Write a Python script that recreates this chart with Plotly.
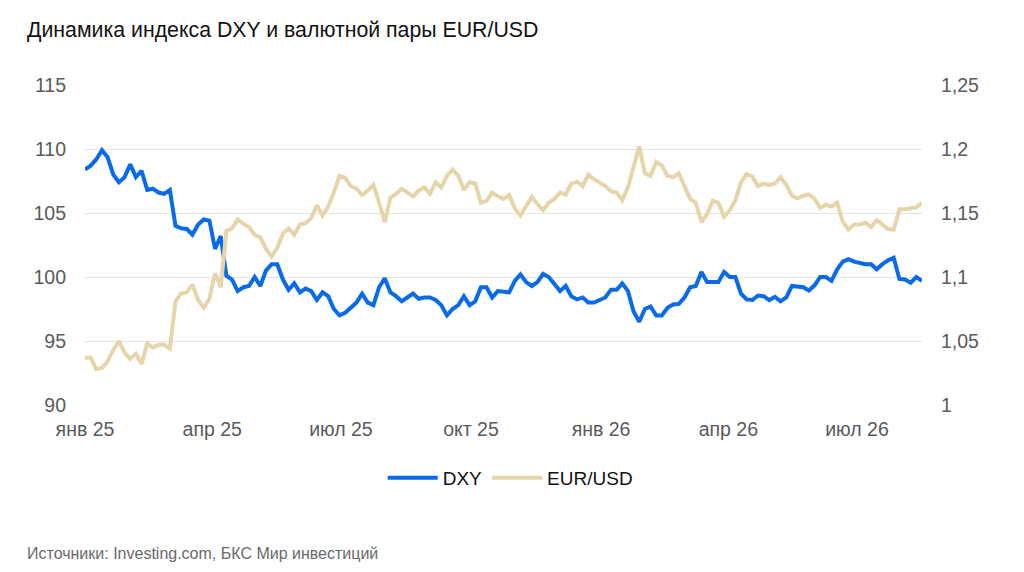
import pandas as pd
import plotly.graph_objects as go

# sampling dates (every 4 days from 1 Jan 2025)
dates = pd.date_range("2025-01-01", periods=149, freq="4D")

dxy = [
    108.4, 108.7, 109.2, 109.9, 109.35, 108.0, 107.4, 107.8, 108.8, 107.8,
    108.3, 106.8, 106.9, 106.6, 106.5, 106.8, 104.0, 103.8, 103.75, 103.3,
    104.1, 104.5, 104.4, 102.2, 103.2, 100.1, 99.8, 98.9, 99.2, 99.3,
    100.0, 99.3, 100.5, 101.0, 101.0, 99.8, 99.0, 99.5, 98.8, 99.1,
    98.9, 98.2, 98.8, 98.5, 97.5, 97.0, 97.2, 97.6, 98.0, 98.7,
    98.0, 97.8, 99.2, 99.9, 98.8, 98.5, 98.1, 98.4, 98.7, 98.3,
    98.4, 98.4, 98.2, 97.8, 97.0, 97.5, 97.8, 98.5, 97.8, 98.1,
    99.2, 99.2, 98.4, 98.9, 98.85, 98.8, 99.7, 100.2, 99.6, 99.3,
    99.6, 100.25, 100.0, 99.5, 98.9, 99.3, 98.5, 98.25, 98.4, 98.0,
    98.0, 98.2, 98.4, 99.0, 99.0, 99.5, 98.9, 97.3, 96.5, 97.5,
    97.7, 97.0, 97.0, 97.6, 97.85, 97.9, 98.4, 99.2, 99.3, 100.4,
    99.6, 99.6, 99.6, 100.4, 100.0, 100.0, 98.7, 98.25, 98.2, 98.55,
    98.5, 98.2, 98.45, 98.1, 98.4, 99.3, 99.25, 99.2, 98.95, 99.35,
    100.0, 100.0, 99.7, 100.6, 101.2, 101.4, 101.2, 101.1, 101.0, 101.0,
    100.6, 101.0, 101.3, 101.5, 99.85, 99.8, 99.55, 100.0, 99.7,
]

eurusd = [
    1.037, 1.037, 1.028, 1.029, 1.034, 1.043, 1.050, 1.041, 1.036, 1.040,
    1.032, 1.048, 1.045, 1.047, 1.047, 1.044, 1.081, 1.087, 1.088, 1.094,
    1.082, 1.076, 1.083, 1.103, 1.092, 1.136, 1.138, 1.145, 1.1415, 1.139,
    1.133, 1.131, 1.122, 1.116, 1.123, 1.134, 1.138, 1.133, 1.141, 1.142,
    1.146, 1.156, 1.148, 1.155, 1.166, 1.179, 1.1775, 1.171, 1.169, 1.164,
    1.1675, 1.172, 1.158, 1.143, 1.162, 1.165, 1.169, 1.166, 1.163, 1.1675,
    1.170, 1.165, 1.174, 1.170, 1.179, 1.184, 1.179, 1.168, 1.174, 1.173,
    1.158, 1.1595, 1.166, 1.163, 1.161, 1.164, 1.1535, 1.148, 1.156, 1.1625,
    1.157, 1.152, 1.158, 1.161, 1.166, 1.1645, 1.173, 1.1745, 1.171, 1.180,
    1.1765, 1.174, 1.171, 1.167, 1.166, 1.160, 1.170, 1.186, 1.202, 1.181,
    1.179, 1.190, 1.187, 1.179, 1.178, 1.181, 1.171, 1.161, 1.158, 1.143,
    1.149, 1.1595, 1.158, 1.147, 1.152, 1.160, 1.174, 1.1805, 1.1785, 1.171,
    1.173, 1.172, 1.173, 1.178, 1.172, 1.1635, 1.1615, 1.1635, 1.1645, 1.161,
    1.154, 1.1565, 1.155, 1.158, 1.143, 1.137, 1.141, 1.141, 1.1425, 1.139,
    1.1445, 1.141, 1.1375, 1.137, 1.153, 1.153, 1.154, 1.1545, 1.158,
]

x_tick_vals = ["2025-01-01", "2025-04-01", "2025-07-01", "2025-10-01",
               "2026-01-01", "2026-04-01", "2026-07-01"]
x_tick_text = ["янв 25", "апр 25", "июл 25", "окт 25", "янв 26", "апр 26", "июл 26"]

left_ticks = [90, 95, 100, 105, 110, 115]
right_ticks = [1.0, 1.05, 1.1, 1.15, 1.2, 1.25]
right_labels = ["1", "1,05", "1,1", "1,15", "1,2", "1,25"]

BLUE = "#0a6be8"
BEIGE = "#e6d4ab"
TICK_COLOR = "#5a5a5a"
GRID = "#e3e3e3"
FONT = "Liberation Sans, Arial, sans-serif"

W, H = 1016, 564

fig = go.Figure()
fig.add_trace(go.Scatter(x=dates, y=dxy, name="DXY", mode="lines",
                         line=dict(color=BLUE, width=4), yaxis="y"))
fig.add_trace(go.Scatter(x=dates, y=eurusd, name="EUR/USD", mode="lines",
                         line=dict(color=BEIGE, width=4), yaxis="y2"))

fig.update_layout(
    width=W, height=H,
    margin=dict(l=77, r=102, t=77, b=167),
    paper_bgcolor="white", plot_bgcolor="white",
    font=dict(family=FONT, size=18, color=TICK_COLOR),
    title=dict(text="Динамика индекса DXY и валютной пары EUR/USD",
               xref="container", yref="container", x=19 / W, y=1 - 22 / H,
               xanchor="left", yanchor="middle",
               font=dict(family=FONT, size=21.3, color="#111111")),
    showlegend=True,
    legend=dict(orientation="h", x=0.508, y=-0.228, xanchor="center", yanchor="middle",
                font=dict(family=FONT, size=19, color="#111111"),
                bgcolor="rgba(0,0,0,0)", itemwidth=50, traceorder="normal"),
    xaxis=dict(type="date", tickvals=x_tick_vals, ticktext=x_tick_text,
               showgrid=False, zeroline=False, showline=False,
               ticks="", ticklabelstandoff=10,
               tickfont=dict(family=FONT, size=19.5, color=TICK_COLOR)),
    yaxis=dict(range=[90, 115], tickvals=left_ticks, showgrid=True, gridcolor=GRID,
               gridwidth=1, zeroline=False, showline=False, ticks="",
               ticklabelstandoff=18,
               tickfont=dict(family=FONT, size=19.5, color=TICK_COLOR)),
    yaxis2=dict(range=[1.0, 1.25], overlaying="y", side="right",
                tickvals=right_ticks, ticktext=right_labels, showgrid=False,
                zeroline=False, showline=False, ticks="", ticklabelstandoff=18,
                tickfont=dict(family=FONT, size=19.5, color=TICK_COLOR)),
    annotations=[dict(text="Источники: Investing.com, БКС Мир инвестиций",
                      xref="paper", yref="paper", x=-60 / 837, y=-0.4625,
                      xanchor="left", yanchor="middle", showarrow=False,
                      font=dict(family=FONT, size=16, color="#6a6a6a"))],
)

fig.write_html("out.html")
